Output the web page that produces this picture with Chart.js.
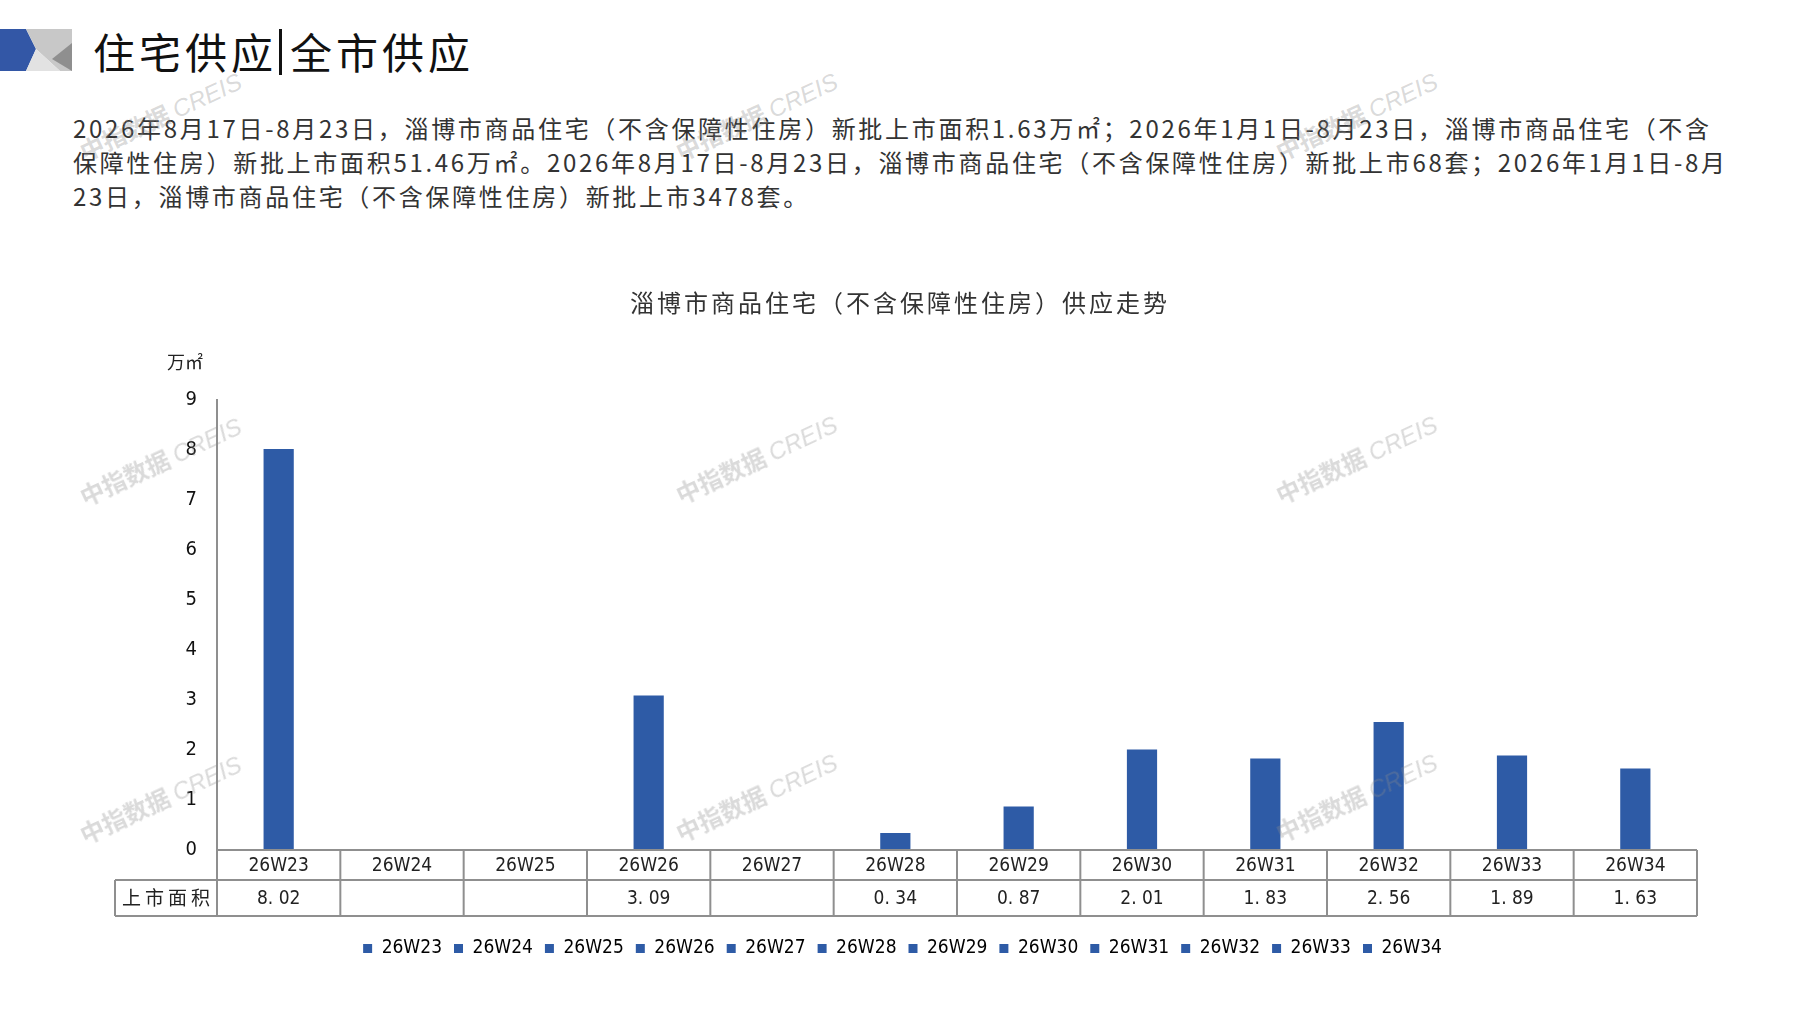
<!DOCTYPE html>
<html>
<head>
<meta charset="utf-8">
<script src="https://cdn.jsdelivr.net/npm/chart.js@4.4.1/dist/chart.umd.min.js"></script>
<style>
  html, body { margin: 0; padding: 0; background: #fff; }
  body { width: 1797px; height: 1010px; position: relative; overflow: hidden;
    font-family: "Noto Sans CJK SC", sans-serif; color: #222; }
  #logo { position: absolute; left: 0; top: 29px; }
  #head { position: absolute; left: 93px; top: 20px; font-size: 42px; font-weight: 400;
    letter-spacing: 4px; color: #111; }
  #head .bar { display: inline-block; width: 3px; height: 46px; background: #111; vertical-align: -6px; margin: 0 8px 0 2px; }
  #para { position: absolute; left: 73px; top: 111px; font-size: 24px; line-height: 34px; color: #333; white-space: nowrap; letter-spacing: 2.7px; }
  #wrap { position: absolute; left: 0; top: 280px; width: 1797px; height: 730px; }
  .wm { position: absolute; transform: translate(-50%, -50%) rotate(-25deg); font-size: 24px;
    color: rgba(140,140,140,0.32); white-space: nowrap; font-weight: 700; pointer-events: none; }
  .wm i { font-family: "Liberation Sans", sans-serif; font-weight: 400; }
</style>
</head>
<body>
<svg id="logo" width="72" height="42" viewBox="0 0 72 42">
  <polygon points="0,0 26,0 36,20 26,42 0,42" fill="#3357a6"/>
  <polygon points="26,0 72,0 72,42 60,42 36,20" fill="#c8c8c8"/>
  <polygon points="36,20 60,42 26,42" fill="#e2e2e2"/>
  <polygon points="72,14 72,42 52,30" fill="#8f8f8f"/>
</svg>
<div id="head">住宅供应<span class="bar"></span>全市供应</div>
<div id="para">2026年8月17日-8月23日，淄博市商品住宅（不含保障性住房）新批上市面积1.63万㎡；2026年1月1日-8月23日，淄博市商品住宅（不含<br>保障性住房）新批上市面积51.46万㎡。2026年8月17日-8月23日，淄博市商品住宅（不含保障性住房）新批上市68套；2026年1月1日-8月<br>23日，淄博市商品住宅（不含保障性住房）新批上市3478套。</div>
<div id="wrap"><canvas id="c" width="1797" height="730"></canvas></div>
<div class="wm" style="left:160px;top:115px">中指数据 <i>CREIS</i></div>
<div class="wm" style="left:756px;top:115px">中指数据 <i>CREIS</i></div>
<div class="wm" style="left:1356px;top:115px">中指数据 <i>CREIS</i></div>
<div class="wm" style="left:160px;top:460px">中指数据 <i>CREIS</i></div>
<div class="wm" style="left:756px;top:458px">中指数据 <i>CREIS</i></div>
<div class="wm" style="left:1356px;top:458px">中指数据 <i>CREIS</i></div>
<div class="wm" style="left:160px;top:798px">中指数据 <i>CREIS</i></div>
<div class="wm" style="left:756px;top:796px">中指数据 <i>CREIS</i></div>
<div class="wm" style="left:1356px;top:796px">中指数据 <i>CREIS</i></div>
<script>
// Chart data
const weeks = ['26W23', '26W24', '26W25', '26W26', '26W27', '26W28', '26W29', '26W30', '26W31', '26W32', '26W33', '26W34'];
const supplyArea = [8.02, null, null, 3.09, null, 0.34, 0.87, 2.01, 1.83, 2.56, 1.89, 1.63];
const yTicks = [0, 1, 2, 3, 4, 5, 6, 7, 8, 9];
const rowLabel = '上市面积';
const unitLabel = '万㎡';
const chartTitle = '淄博市商品住宅（不含保障性住房）供应走势';

const BLUE = '#2e5ba6';
const LINE = '#8f8f8f';
const FONT = '"DejaVu Sans Condensed", "Liberation Sans Narrow", "Noto Sans CJK SC", sans-serif';
const CJK = '"Noto Sans CJK SC", sans-serif';

// Draws the chart title, the data table under the plot and the unit label
const tablePlugin = {
  id: 'dataTable',
  afterDraw(chart) {
    const { ctx, chartArea, scales: { x } } = chart;
    const top = chartArea.bottom;
    const rowH = [30, 36];
    const mid = top + rowH[0];
    const bottom = mid + rowH[1];
    const left = x.left;
    const right = x.right;
    const labelLeft = 115;
    const colW = (right - left) / weeks.length;

    ctx.save();
    ctx.strokeStyle = LINE;
    ctx.lineWidth = 2;
    ctx.beginPath();
    ctx.moveTo(left, top); ctx.lineTo(right, top);
    ctx.moveTo(labelLeft, mid); ctx.lineTo(right, mid);
    ctx.moveTo(labelLeft, bottom); ctx.lineTo(right, bottom);
    ctx.moveTo(labelLeft, mid); ctx.lineTo(labelLeft, bottom);
    for (let i = 0; i <= weeks.length; i++) {
      const px = left + i * colW;
      ctx.moveTo(px, top); ctx.lineTo(px, bottom);
    }
    ctx.stroke();

    ctx.fillStyle = '#222';
    ctx.textAlign = 'center';
    ctx.textBaseline = 'middle';
    ctx.font = '19px ' + FONT;
    weeks.forEach((w, i) => {
      const cx = x.getPixelForValue(i);
      ctx.fillText(w, cx, top + rowH[0] / 2 + 1);
      if (supplyArea[i] !== null) {
        ctx.fillText(supplyArea[i].toFixed(2).replace('.', '. '), cx, mid + rowH[1] / 2 + 1);
      }
    });
    ctx.font = '19px ' + CJK;
    ctx.letterSpacing = '4px';
    ctx.fillText(rowLabel, (labelLeft + left) / 2 + 2, mid + rowH[1] / 2);
    ctx.letterSpacing = '0px';

    ctx.font = '18px ' + CJK;
    ctx.fillText(unitLabel, 185, chartArea.top - 38);

    ctx.fillStyle = '#333';
    ctx.font = '24px ' + CJK;
    ctx.letterSpacing = '3px';
    ctx.fillText(chartTitle, 900, 23);
    ctx.restore();
  },
};

new Chart(document.getElementById('c'), {
  type: 'bar',
  data: {
    labels: weeks,
    datasets: [{
      label: rowLabel,
      data: supplyArea,
      backgroundColor: BLUE,
      borderWidth: 0,
      categoryPercentage: 1,
      barPercentage: 0.245,
    }],
  },
  options: {
    responsive: false,
    animation: false,
    devicePixelRatio: 1,
    layout: {
      padding: { left: 108, right: 100, top: 120, bottom: 42 },
    },
    scales: {
      x: {
        grid: { display: false },
        border: { display: false },
        ticks: { display: false },
        afterFit: (s) => { s.height = 77; },
      },
      y: {
        min: 0,
        max: 9,
        afterFit: (s) => { s.width = 109; },
        afterBuildTicks: (s) => { s.ticks = yTicks.map((v) => ({ value: v })); },
        grid: { display: false, drawOnChartArea: false, drawTicks: true, tickLength: 6, color: LINE },
        border: { display: true, color: LINE, width: 2 },
        ticks: { color: '#111', font: { family: FONT, size: 20 }, padding: 14 },
      },
    },
    plugins: {
      title: { display: false },
      legend: {
        position: 'bottom',
        labels: {
          color: '#222',
          font: { family: FONT, size: 19 },
          boxWidth: 9,
          boxHeight: 9,
          padding: 12,
          generateLabels: () => weeks.map((w) => ({
            text: w, fillStyle: BLUE, strokeStyle: BLUE, lineWidth: 0, hidden: false,
          })),
        },
      },
      tooltip: { enabled: false },
    },
  },
  plugins: [tablePlugin],
});
</script>
</body>
</html>
